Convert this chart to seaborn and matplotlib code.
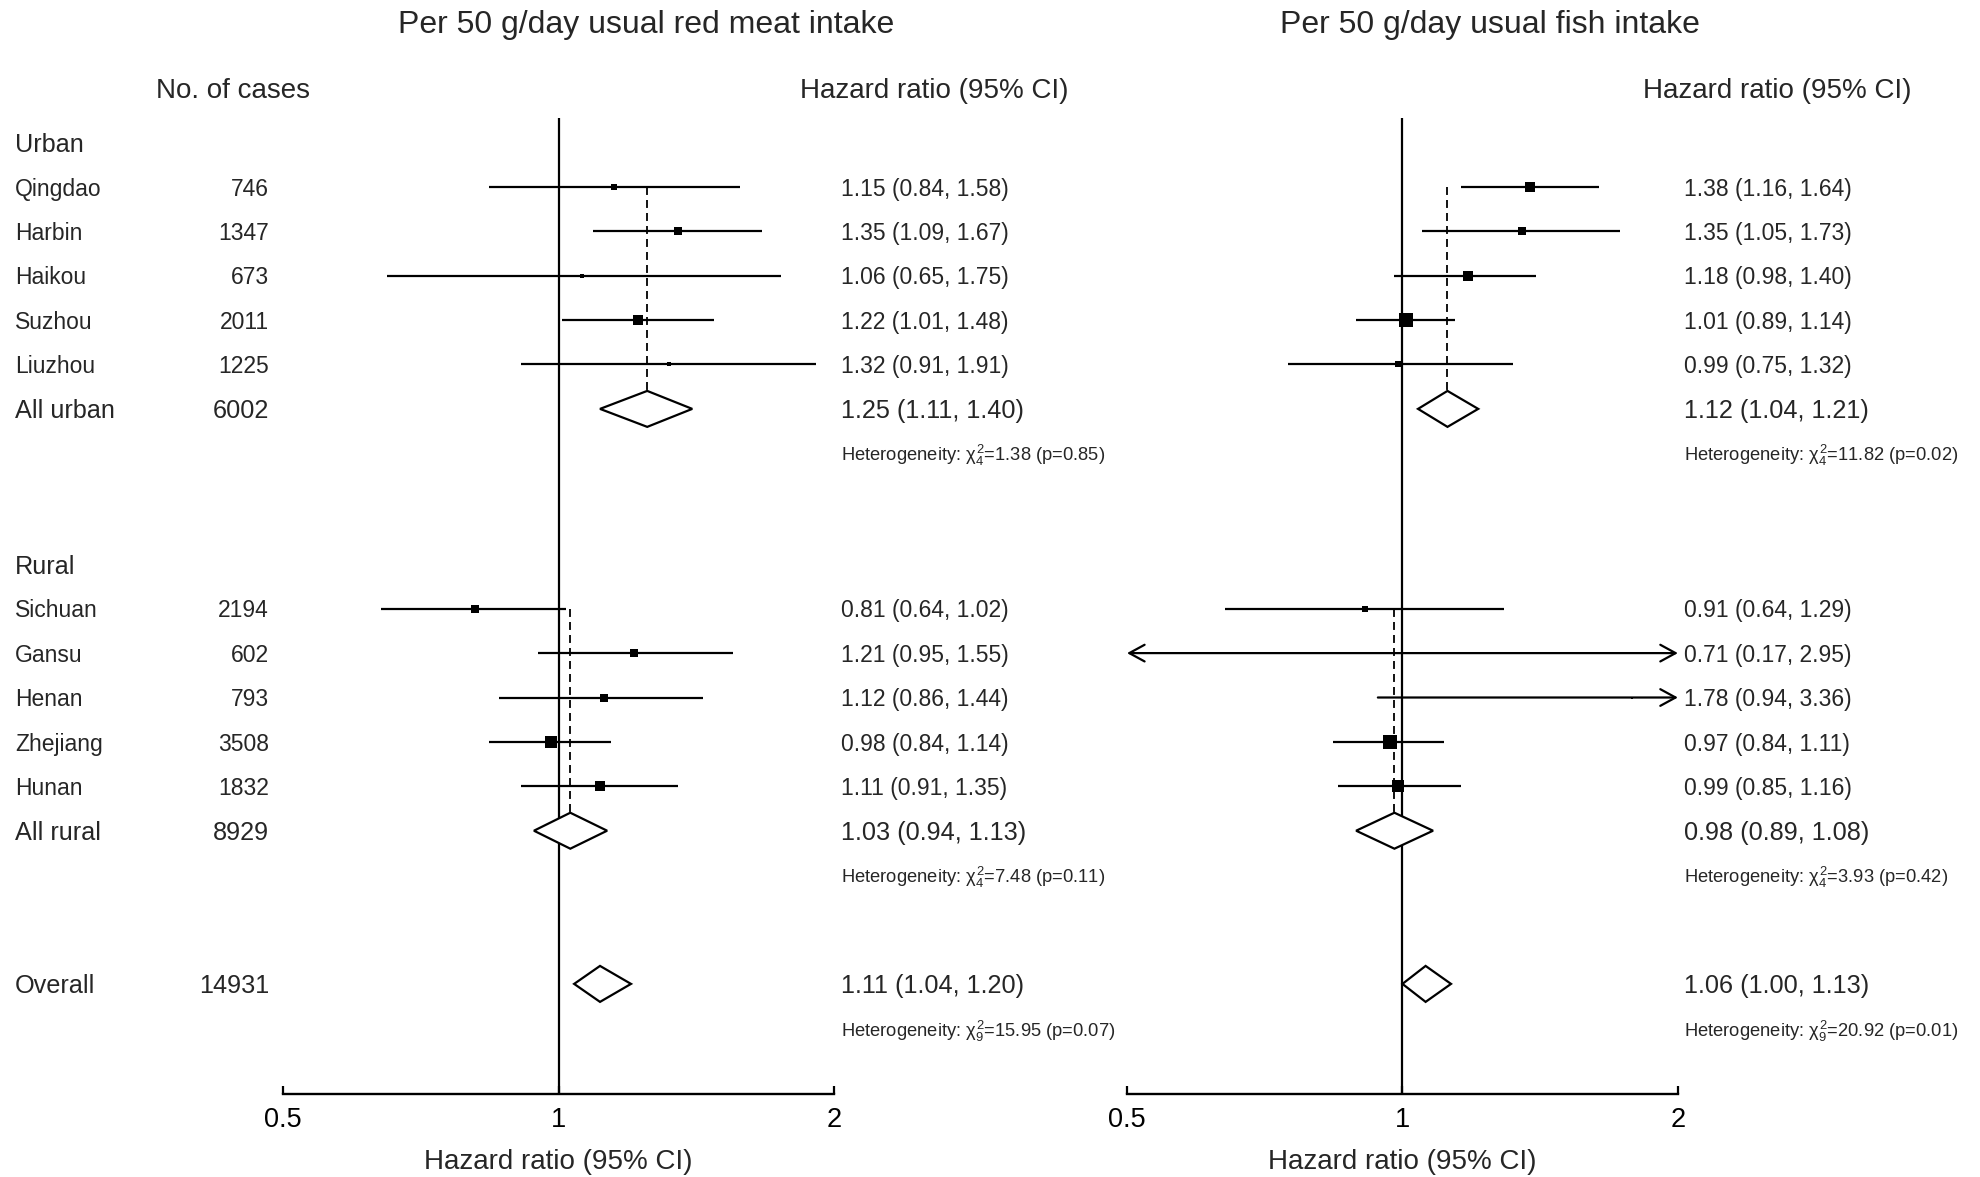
import numpy as np
import pandas as pd
import matplotlib
matplotlib.use("Agg")
import matplotlib.pyplot as plt
import seaborn as sns
from matplotlib.transforms import blended_transform_factory
from matplotlib.ticker import NullLocator

# ---------------- data ----------------
urban_sites = ["Qingdao", "Harbin", "Haikou", "Suzhou", "Liuzhou"]
urban_cases = [746, 1347, 673, 2011, 1225]
rural_sites = ["Sichuan", "Gansu", "Henan", "Zhejiang", "Hunan"]
rural_cases = [2194, 602, 793, 3508, 1832]
urban_total, rural_total, overall_total = 6002, 8929, 14931

# red meat
meat_urban_hr = [1.15, 1.35, 1.06, 1.22, 1.32]
meat_urban_lo = [0.84, 1.09, 0.65, 1.01, 0.91]
meat_urban_hi = [1.58, 1.67, 1.75, 1.48, 1.91]
meat_rural_hr = [0.81, 1.21, 1.12, 0.98, 1.11]
meat_rural_lo = [0.64, 0.95, 0.86, 0.84, 0.91]
meat_rural_hi = [1.02, 1.55, 1.44, 1.14, 1.35]
meat_pooled = {"urban": (1.25, 1.11, 1.40), "rural": (1.03, 0.94, 1.13), "overall": (1.11, 1.04, 1.20)}
meat_het = {"urban": (4, 1.38, 0.85), "rural": (4, 7.48, 0.11), "overall": (9, 15.95, 0.07)}

# fish
fish_urban_hr = [1.38, 1.35, 1.18, 1.01, 0.99]
fish_urban_lo = [1.16, 1.05, 0.98, 0.89, 0.75]
fish_urban_hi = [1.64, 1.73, 1.40, 1.14, 1.32]
fish_rural_hr = [0.91, 0.71, 1.78, 0.97, 0.99]
fish_rural_lo = [0.64, 0.17, 0.94, 0.84, 0.85]
fish_rural_hi = [1.29, 2.95, 3.36, 1.11, 1.16]
fish_pooled = {"urban": (1.12, 1.04, 1.21), "rural": (0.98, 0.89, 1.08), "overall": (1.06, 1.00, 1.13)}
fish_het = {"urban": (4, 11.82, 0.02), "rural": (4, 3.93, 0.42), "overall": (9, 20.92, 0.01)}

titles = ["Per 50 g/day usual red meat intake", "Per 50 g/day usual fish intake"]

# ---------------- style ----------------
sns.set_theme(style="white")
plt.rcParams["font.family"] = ["Liberation Sans", "DejaVu Sans"]
plt.rcParams["mathtext.fontset"] = "custom"
plt.rcParams["mathtext.rm"] = "Liberation Sans"
plt.rcParams["mathtext.it"] = "Liberation Sans"
plt.rcParams["mathtext.sf"] = "Liberation Sans"
plt.rcParams["axes.edgecolor"] = "black"

fig = plt.figure(figsize=(19.81, 11.77), dpi=100)

# layout rows (data units, inverted)
urban_head, rural_head = -1.0, 8.5
urban_rows = [0, 1, 2, 3, 4]
rural_rows = [9.5, 10.5, 11.5, 12.5, 13.5]
pool_rows = {"urban": 5.0, "rural": 14.5, "overall": 17.95}
het_rows = {"urban": 6.0, "rural": 15.5, "overall": 18.97}
DH = 0.405  # diamond half-height
TY = 0.05   # small downward nudge for text rows

XMIN, XMAX = 0.5, 2.0
SITE_FS, POOL_FS, HEAD_FS, TITLE_FS, HET_FS = 16.5, 18.2, 20, 23, 13.2

ax_left = fig.add_axes([0.1429, 0.0705, 0.2781, 0.8292])
ax_right = fig.add_axes([0.5689, 0.0705, 0.2781, 0.8292])

text_x = [0.4245, 0.850]
head_x = [0.4715, 0.897]
title_x = [0.3264, 0.7519]


def fmt(h, l, u):
    return f"{h:.2f} ({l:.2f}, {u:.2f})"


def het_text(df, chi, p):
    return rf"Heterogeneity: $\chi^2_{{{df}}}$={chi:.2f} (p={p:.2f})"


def draw_group(ax, tr, rows, hr, lo, hi, pooled, pool_row, het, het_row, tx, dashed=True):
    for r, h, l, u in zip(rows, hr, lo, hi):
        lc, uc = max(l, XMIN), min(u, XMAX)
        if l < XMIN and u > XMAX:
            style = "<->,head_length=0.55,head_width=0.3"
        elif u > XMAX:
            style = "->,head_length=0.55,head_width=0.3"
        elif l < XMIN:
            style = "<-,head_length=0.55,head_width=0.3"
        else:
            style = None
        if style is None:
            ax.plot([lc, uc], [r, r], color="black", lw=1.6, solid_capstyle="butt", zorder=2)
        else:
            ax.annotate("", xy=(uc, r), xytext=(lc, r),
                        arrowprops=dict(arrowstyle=style, color="black", lw=1.6,
                                        mutation_scale=20, shrinkA=0, shrinkB=0),
                        annotation_clip=False, zorder=2)
        side_px = max(3.65 / np.log(u / l), 1.2)
        side_pt = side_px * 72 / fig.dpi
        sns.scatterplot(x=[h], y=[r], marker="s", s=side_pt ** 2, color="black",
                        linewidth=0, ax=ax, legend=False, zorder=4, clip_on=False)
        ax.text(tx, r + TY, fmt(h, l, u), transform=tr, ha="left", va="center", fontsize=SITE_FS)
    est, pl, pu = pooled
    if dashed:
        ax.plot([est, est], [rows[0], pool_row - DH], color="black", lw=1.3,
                ls=(0, (4.4, 2.8)), zorder=1.5)
    ax.fill([pl, est, pu, est], [pool_row, pool_row - DH, pool_row, pool_row + DH],
            facecolor="white", edgecolor="black", lw=1.6, zorder=3)
    ax.text(tx, pool_row + TY, fmt(est, pl, pu), transform=tr, ha="left", va="center", fontsize=POOL_FS)
    ax.text(tx, het_row + TY, het_text(*het), transform=tr, ha="left", va="center", fontsize=HET_FS)


panels = [
    (ax_left, meat_urban_hr, meat_urban_lo, meat_urban_hi, meat_rural_hr, meat_rural_lo, meat_rural_hi,
     meat_pooled, meat_het),
    (ax_right, fish_urban_hr, fish_urban_lo, fish_urban_hi, fish_rural_hr, fish_rural_lo, fish_rural_hi,
     fish_pooled, fish_het),
]

for i, (ax, uh, ul, uu, rh, rl, ru, pooled, het) in enumerate(panels):
    tr = blended_transform_factory(fig.transFigure, ax.transData)
    ax.set_xscale("log", base=2)
    ax.set_xlim(XMIN, XMAX)
    ax.set_ylim(20.43, -1.55)
    ax.axvline(1, color="black", lw=1.6, zorder=1)
    draw_group(ax, tr, urban_rows, uh, ul, uu, pooled["urban"], pool_rows["urban"],
               het["urban"], het_rows["urban"], text_x[i])
    draw_group(ax, tr, rural_rows, rh, rl, ru, pooled["rural"], pool_rows["rural"],
               het["rural"], het_rows["rural"], text_x[i])
    # overall
    est, pl, pu = pooled["overall"]
    r = pool_rows["overall"]
    ax.fill([pl, est, pu, est], [r, r - DH, r, r + DH], facecolor="white", edgecolor="black", lw=1.6, zorder=3)
    ax.text(text_x[i], r + TY, fmt(est, pl, pu), transform=tr, ha="left", va="center", fontsize=POOL_FS)
    ax.text(text_x[i], het_rows["overall"] + TY, het_text(*het["overall"]),
            transform=tr, ha="left", va="center", fontsize=HET_FS)

    ax.set_xticks([0.5, 1, 2])
    ax.set_xticklabels(["0.5", "1", "2"])
    ax.xaxis.set_minor_locator(NullLocator())
    ax.tick_params(axis="x", which="major", direction="in", length=6, width=1.6,
                   labelsize=19.5, pad=9, bottom=True, colors="black")
    ax.set_yticks([])
    for s in ["top", "left", "right"]:
        ax.spines[s].set_visible(False)
    ax.spines["bottom"].set_linewidth(1.7)
    ax.set_xlabel("Hazard ratio (95% CI)", fontsize=20, labelpad=12)
    ax.set_ylabel("")

    fig.text(title_x[i], 0.9790, titles[i], ha="center", va="center", fontsize=TITLE_FS)
    fig.text(head_x[i], 0.9225, "Hazard ratio (95% CI)", ha="center", va="center", fontsize=HEAD_FS)

# left-hand columns
trL = blended_transform_factory(fig.transFigure, ax_left.transData)
LAB_X, NUM_X = 0.0076, 0.1358
fig.text(0.1177, 0.9225, "No. of cases", ha="center", va="center", fontsize=HEAD_FS)
ax_left.text(LAB_X, urban_head + TY, "Urban", transform=trL, ha="left", va="center", fontsize=POOL_FS)
ax_left.text(LAB_X, rural_head + TY, "Rural", transform=trL, ha="left", va="center", fontsize=POOL_FS)
for r, name, n in zip(urban_rows + rural_rows, urban_sites + rural_sites, urban_cases + rural_cases):
    ax_left.text(LAB_X, r + TY, name, transform=trL, ha="left", va="center", fontsize=SITE_FS)
    ax_left.text(NUM_X, r + TY, str(n), transform=trL, ha="right", va="center", fontsize=SITE_FS)
for key, name, n in [("urban", "All urban", urban_total), ("rural", "All rural", rural_total),
                     ("overall", "Overall", overall_total)]:
    ax_left.text(LAB_X, pool_rows[key] + TY, name, transform=trL, ha="left", va="center", fontsize=POOL_FS)
    ax_left.text(NUM_X, pool_rows[key] + TY, str(n), transform=trL, ha="right", va="center", fontsize=POOL_FS)

fig.savefig("out.png", dpi=100)
